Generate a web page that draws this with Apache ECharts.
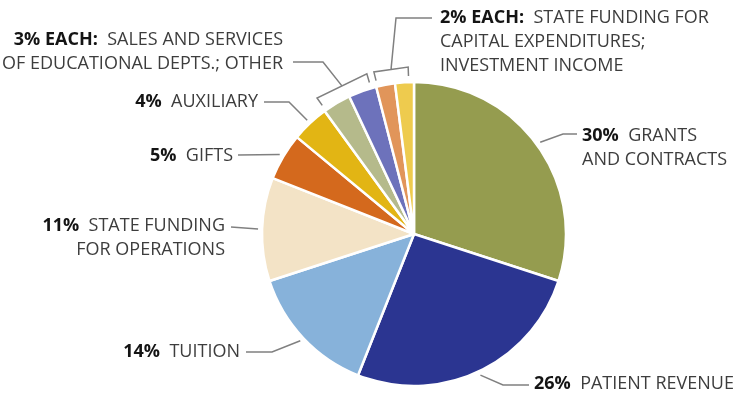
<!DOCTYPE html>
<html>
<head>
<meta charset="utf-8">
<script src="https://cdn.jsdelivr.net/npm/echarts@6/dist/echarts.min.js"></script>
<style>
html,body{margin:0;padding:0;background:#fff;}
#chart{width:733px;height:394px;}
</style>
</head>
<body>
<div id="chart"></div>
<script>
// ---- data ----
const categories = [
  'GRANTS AND CONTRACTS', 'PATIENT REVENUE', 'TUITION', 'STATE FUNDING FOR OPERATIONS',
  'GIFTS', 'AUXILIARY', 'SALES AND SERVICES OF EDUCATIONAL DEPTS.', 'OTHER',
  'STATE FUNDING FOR CAPITAL EXPENDITURES', 'INVESTMENT INCOME'
];
const values = [30, 26, 14, 11, 5, 4, 3, 3, 2, 2];
const colors = ['#959c4f', '#2b3591', '#87b2da', '#f3e3c6', '#d4691d', '#e2b514',
                '#b5ba8b', '#6d72bb', '#e1955a', '#eecb4e'];
// label text lines (percent part, name lines)
const labelPct = ['30%', '26%', '14%', '11%', '5%', '4%', '3% EACH:', '', '2% EACH:', ''];
const labelName = [
  ['GRANTS', 'AND CONTRACTS'],
  ['PATIENT REVENUE'],
  ['TUITION'],
  ['STATE FUNDING', 'FOR OPERATIONS'],
  ['GIFTS'],
  ['AUXILIARY'],
  ['SALES AND SERVICES', 'OF EDUCATIONAL DEPTS.; OTHER'],
  [],
  ['STATE FUNDING FOR', 'CAPITAL EXPENDITURES;', 'INVESTMENT INCOME'],
  []
];
// groups sharing one bracketed label: [first index, last index]
const groups = {6: [6, 7], 8: [8, 9]};

// ---- layout (label placement only) ----
const C = [414, 234], R = 152;
const layout = {
  0: {x: 582, y: 148, align: 'left', pts: [[563, 134], [577, 134]]},
  1: {x: 534, y: 384, align: 'left', pts: [[503, 385], [529, 385]]},
  2: {x: 240, y: 352, align: 'right', pts: [[272, 352], [246, 352]]},
  3: {x: 225, y: 238, align: 'right', pts: [[231, 227]]},
  4: {x: 233, y: 156, align: 'right', pts: [[238, 155]]},
  5: {x: 258, y: 102, align: 'right', pts: [[289, 102], [264, 102]]},
  6: {x: 283, y: 52, align: 'right', pts: [[323, 62], [293, 62]]},
  8: {x: 440, y: 42, align: 'left', pts: [[396, 18], [432, 18]]}
};

const total = values.reduce((a, b) => a + b, 0);
const cum = [];
values.reduce((acc, v, i) => { cum[i] = acc; return acc + v; }, 0);
function angleOf(frac) { return frac * 2 * Math.PI; } // clockwise from top
function pt(ang, r) { return [C[0] + r * Math.sin(ang), C[1] - r * Math.cos(ang)]; }

function richText(i) {
  const al = layout[i] ? layout[i].align : 'left';
  const s = al === 'right' ? 'R' : 'L';
  const names = labelName[i];
  const lines = [];
  names.forEach((n, k) => {
    if (k === 0) lines.push('{b' + s + '|' + labelPct[i] + '}{n' + s + '|  ' + n + '}');
    else lines.push('{n' + s + '|' + n + '}');
  });
  return lines.join('\n');
}

const data = values.map((v, i) => {
  const d = {name: categories[i], value: v, itemStyle: {color: colors[i]}};
  if (!layout[i]) {
    d.label = {show: false};
    d.labelLine = {show: false};
  }
  return d;
});

const richBase = {
  fontFamily: 'Open Sans', fontSize: 18, lineHeight: 24
};
const rich = {
  bL: Object.assign({}, richBase, {fontWeight: 'bold', color: '#141414', align: 'left'}),
  nL: Object.assign({}, richBase, {color: '#3d3d3d', align: 'left'}),
  bR: Object.assign({}, richBase, {fontWeight: 'bold', color: '#141414', align: 'right'}),
  nR: Object.assign({}, richBase, {color: '#3d3d3d', align: 'right'})
};

const chart = echarts.init(document.getElementById('chart'), null, {renderer: 'canvas'});
chart.setOption({
  animation: false,
  backgroundColor: '#ffffff',
  series: [{
    type: 'pie',
    center: C,
    radius: R,
    startAngle: 90,
    clockwise: true,
    avoidLabelOverlap: false,
    data: data,
    itemStyle: {borderColor: '#ffffff', borderWidth: 2.5},
    label: {
      show: true,
      position: 'outside',
      formatter: p => richText(p.dataIndex),
      rich: rich,
      fontFamily: 'Open Sans', fontSize: 18, lineHeight: 24
    },
    labelLine: {show: true, smooth: false, lineStyle: {color: '#808080', width: 1.5}},
    emphasis: {disabled: true},
    labelLayout: function (params) {
      const i = params.dataIndex;
      const L = layout[i];
      if (!L) return {};
      let points;
      if (groups[i]) {
        const g = groups[i];
        let a0 = 0, a1 = 0;
        for (let k = 0; k < g[0]; k++) a0 += values[k];
        a1 = a0;
        for (let k = g[0]; k <= g[1]; k++) a1 += values[k];
        const A0 = angleOf(a0 / total) + 0.5 * Math.PI / 180;
        const A1 = angleOf(a1 / total) - 2 * Math.PI / 180;
        const r0 = R + 6, r1 = R + 15;
        const b0 = pt(A0, r0), t0 = pt(A0, r1), b1 = pt(A1, r0), t1 = pt(A1, r1);
        const mid = [(t0[0] + t1[0]) / 2, (t0[1] + t1[1]) / 2];
        points = [b0, t0, t1, b1, t1, mid].concat(L.pts);
      } else {
        const midAng = angleOf((cum[i] + values[i] / 2) / total);
        points = [pt(midAng, R + 4)].concat(L.pts);
      }
      return {
        x: L.x, y: L.y, align: L.align, verticalAlign: 'middle',
        labelLinePoints: points
      };
    }
  }]
});
</script>
</body>
</html>
